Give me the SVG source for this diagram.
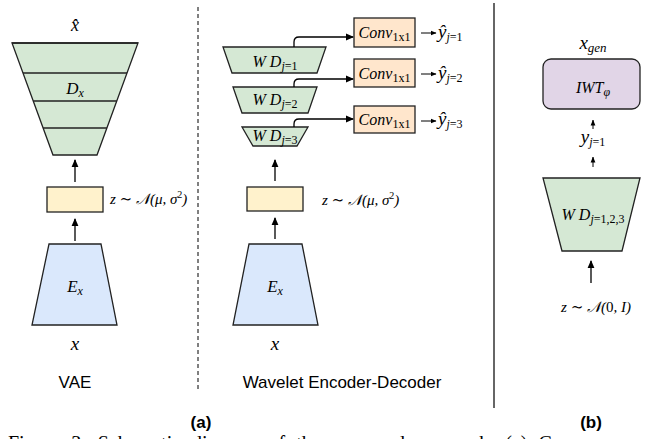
<svg xmlns="http://www.w3.org/2000/svg" width="652" height="439" viewBox="0 0 652 439">
<defs>
<marker id="ah" markerWidth="8" markerHeight="8" refX="7" refY="4" orient="auto" markerUnits="userSpaceOnUse">
<path d="M0,0.6 L8,4 L0,7.4 Z" fill="#000"/>
</marker>
<marker id="ahs" markerWidth="6" markerHeight="6" refX="5.5" refY="3" orient="auto" markerUnits="userSpaceOnUse">
<path d="M0,0.6 L6,3 L0,5.4 Z" fill="#000"/>
</marker>
</defs>
<style>
.m{font-family:"Liberation Serif","DejaVu Serif",serif;font-style:italic;fill:#000}
.r{font-family:"Liberation Serif","DejaVu Serif",serif;fill:#000}
.s{font-family:"Liberation Sans",Arial,sans-serif;fill:#000}
.b{font-family:"Liberation Sans",Arial,sans-serif;font-weight:bold;fill:#000}
.green{fill:#d5e8d4;stroke:#222;stroke-width:1.3}
.blue{fill:#dae8fc;stroke:#222;stroke-width:1.3}
.yellow{fill:#fff2cc;stroke:#222;stroke-width:1.3}
.orange{fill:#ffe6cc;stroke:#222;stroke-width:1.3}
.purple{fill:#e1d5e7;stroke:#222;stroke-width:1.3}
.line{fill:none;stroke:#222;stroke-width:1.6}
.arr{fill:none;stroke:#000;stroke-width:1.3;marker-end:url(#ah)}
.arrs{fill:none;stroke:#000;stroke-width:1;marker-end:url(#ahs)}
.sub{font-size:12px}
.up{font-style:normal}
</style>

<!-- separators -->
<line x1="198" y1="7" x2="198" y2="392" stroke="#000" stroke-width="1" stroke-dasharray="4,3"/>
<line x1="494" y1="3" x2="494" y2="408" stroke="#333" stroke-width="1.5"/>

<!-- VAE panel -->
<g id="vae-xhat"><text class="m" x="75" y="31" font-size="18" text-anchor="middle">x̂</text></g>
<g id="vae-decoder">
<polygon class="green" points="12,43 138,43 97,155 53,155"/>
<line class="line" x1="23" y1="73" x2="127" y2="73" stroke-width="2"/>
<line class="line" x1="33.2" y1="101" x2="116.8" y2="101"/>
<line class="line" x1="43.1" y1="128" x2="106.9" y2="128"/>
<line class="line" x1="12" y1="43" x2="138" y2="43"/>
<text class="m" x="75" y="94" font-size="17" text-anchor="middle">D<tspan class="sub" dy="3">x</tspan></text>
</g>
<g id="vae-z">
<rect class="yellow" x="47" y="187" width="56" height="25"/>
<text class="m" x="110" y="204" font-size="15">z <tspan class="up">∼</tspan> 𝒩(μ, σ<tspan font-size="10" dy="-6" class="up">2</tspan><tspan dy="6">)</tspan></text>
</g>
<g id="vae-encoder">
<polygon class="blue" points="49,244 101,244 117,325 32,325"/>
<text class="m" x="75" y="292" font-size="17" text-anchor="middle">E<tspan class="sub" dy="3">x</tspan></text>
</g>
<g id="vae-x"><text class="m" x="75" y="350" font-size="19" text-anchor="middle">x</text></g>
<g id="vae-title"><text class="s" x="75" y="388" font-size="17" text-anchor="middle">VAE</text></g>

<!-- Wavelet encoder-decoder panel -->
<g id="wd1">
<polygon class="green" points="223,47 326,47 317,73 232,73"/>
<text class="m" x="275" y="67" font-size="16" text-anchor="middle">W D<tspan class="sub" dy="3">j</tspan><tspan class="sub up">=1</tspan></text>
</g>
<g id="wd2">
<polygon class="green" points="233,87 317,87 308,113 242,113"/>
<text class="m" x="275" y="105" font-size="16" text-anchor="middle">W D<tspan class="sub" dy="3">j</tspan><tspan class="sub up">=2</tspan></text>
</g>
<g id="wd3">
<polygon class="green" points="242,127 308,127 297,146 253,146"/>
<text class="m" x="275" y="141" font-size="16" text-anchor="middle">W D<tspan class="sub" dy="3">j</tspan><tspan class="sub up">=3</tspan></text>
</g>
<g id="conv1">
<rect class="orange" x="354" y="18" width="61" height="29"/>
<text class="m" x="384.5" y="38" font-size="16" text-anchor="middle">Conv<tspan class="sub up" dy="3">1x1</tspan></text>
</g>
<g id="conv2">
<rect class="orange" x="354" y="59" width="61" height="28"/>
<text class="m" x="384.5" y="79" font-size="16" text-anchor="middle">Conv<tspan class="sub up" dy="3">1x1</tspan></text>
</g>
<g id="conv3">
<rect class="orange" x="354" y="106" width="61" height="27"/>
<text class="m" x="384.5" y="125" font-size="16" text-anchor="middle">Conv<tspan class="sub up" dy="3">1x1</tspan></text>
</g>
<g id="yhat1"><text class="m" x="438" y="38" font-size="19">ŷ<tspan class="sub" dy="3">j</tspan><tspan class="sub up">=1</tspan></text></g>
<g id="yhat2"><text class="m" x="438" y="79" font-size="19">ŷ<tspan class="sub" dy="3">j</tspan><tspan class="sub up">=2</tspan></text></g>
<g id="yhat3"><text class="m" x="438" y="125" font-size="19">ŷ<tspan class="sub" dy="3">j</tspan><tspan class="sub up">=3</tspan></text></g>
<g id="wed-z">
<rect class="yellow" x="247" y="187" width="56" height="24"/>
<text class="m" x="322" y="205" font-size="15">z <tspan class="up">∼</tspan> 𝒩(μ, σ<tspan font-size="10" dy="-6" class="up">2</tspan><tspan dy="6">)</tspan></text>
</g>
<g id="wed-encoder">
<polygon class="blue" points="249,244 302,244 318,325 233,325"/>
<text class="m" x="275" y="292" font-size="17" text-anchor="middle">E<tspan class="sub" dy="3">x</tspan></text>
</g>
<g id="wed-x"><text class="m" x="275" y="350" font-size="19" text-anchor="middle">x</text></g>
<g id="wed-title"><text class="s" x="342" y="388" font-size="17" text-anchor="middle">Wavelet Encoder-Decoder</text></g>

<!-- Panel (b) -->
<g id="b-xgen"><text class="m" x="593" y="49" font-size="19" text-anchor="middle">x<tspan font-size="13" dy="3">gen</tspan></text></g>
<g id="b-iwt">
<rect class="purple" x="543" y="59" width="97" height="50" rx="8" ry="8"/>
<text class="m" x="593" y="93" font-size="16" text-anchor="middle">IWT<tspan class="sub" dy="3">φ</tspan></text>
</g>
<g id="b-y"><text class="m" x="593" y="143" font-size="19" text-anchor="middle">y<tspan class="sub" dy="3">j</tspan><tspan class="sub up">=1</tspan></text></g>
<g id="b-wd">
<polygon class="green" points="543,178 640,178 622,251 562,251"/>
<text class="m" x="593" y="220" font-size="16" text-anchor="middle">W D<tspan class="sub" dy="3">j</tspan><tspan class="sub up">=1,2,3</tspan></text>
</g>
<g id="b-z"><text class="m" x="596" y="312" font-size="15" text-anchor="middle">z <tspan class="up">∼</tspan> 𝒩(<tspan class="up">0</tspan>, I)</text></g>

<!-- connectors -->
<g id="connectors">
<path class="arr" d="M75,182 V160"/>
<path class="arr" d="M75,241 V219"/>
<path class="arr" d="M275,181 V160"/>
<path class="arr" d="M275,239 V218"/>
<path class="arr" d="M294,47 V42 Q294,37 299,37 H353"/>
<path class="arr" d="M294,87 V84 Q294,79 299,79 H353"/>
<path class="arr" d="M294,127 V124 Q294,119 299,119 H353"/>
<path class="arrs" d="M421,33 H436"/>
<path class="arrs" d="M421,74 H436"/>
<path class="arrs" d="M421,121 H436"/>
<path class="arrs" d="M593,129 V120"/>
<path class="arrs" d="M593,167 V157"/>
<path class="arr" d="M591,283 V261"/>
</g>

<!-- panel labels -->
<text class="b" x="201" y="428" font-size="17" text-anchor="middle">(a)</text>
<text class="b" x="591" y="428" font-size="17" text-anchor="middle">(b)</text>
<text class="r" x="8" y="450" font-size="20" word-spacing="6">Figure 3: Schematic diagram of the proposed approach. (a) Com</text>
</svg>
